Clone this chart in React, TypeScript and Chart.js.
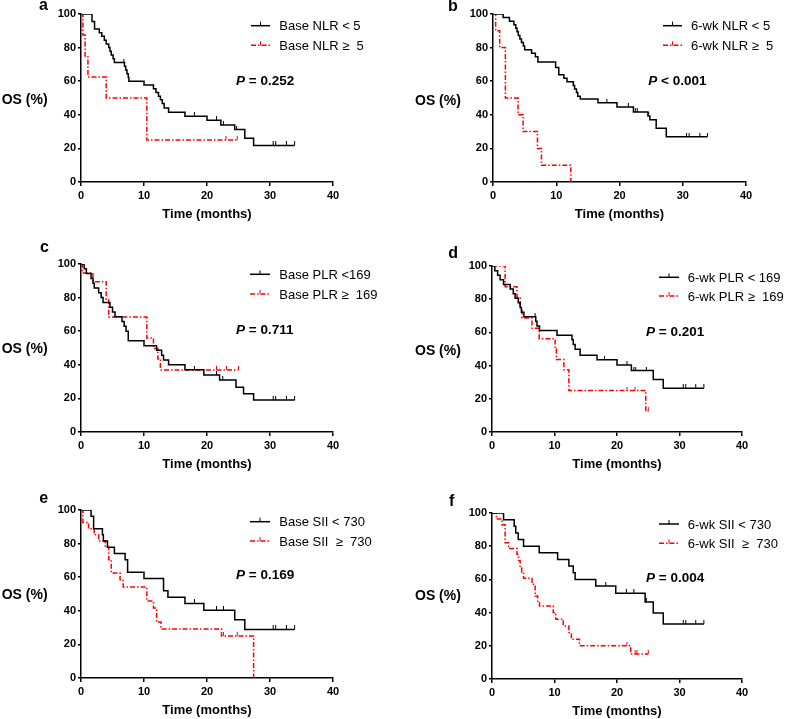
import { useEffect, useRef } from "react";
import { Chart, registerables } from "chart.js";

Chart.register(...registerables);

const FONT = "'Liberation Sans', Arial, Helvetica, sans-serif";
const BLACK = "#000000";
const RED = "#ff0000";
const RED_DASH = [5, 2, 1.5, 2];

// ---------- axes ----------
const xTickValues = [0, 10, 20, 30, 40];
const yTickValues = [0, 20, 40, 60, 80, 100];
const xAxisTitle = "Time (months)";
const yAxisTitle = "OS (%)";

// ---------- texts ----------
const panelLetters = ["a", "b", "c", "d", "e", "f"];
const lowLabels = ["Base NLR < 5", "6-wk NLR < 5", "Base PLR <169", "6-wk PLR < 169", "Base SII < 730", "6-wk SII < 730"];
const highLabels = ["Base NLR \u2265  5", "6-wk NLR \u2265  5", "Base PLR \u2265  169", "6-wk PLR \u2265  169", "Base SII  \u2265  730", "6-wk SII  \u2265  730"];
const pSigns = ["=", "<", "=", "=", "=", "="];
const pValues = ["0.252", "0.001", "0.711", "0.201", "0.169", "0.004"];

// ---------- panel a: Base NLR ----------
const baseNlrLowTime = [0, 1.75, 2.15, 2.9, 3.3, 3.7, 4.0, 4.4, 4.6, 4.8, 5.1, 5.3, 6.9, 7.1, 7.3, 7.5, 7.6, 10.0, 11.5, 11.9, 12.3, 12.6, 12.9, 13.2, 13.9, 16.5, 20.0, 22.2, 24.4, 26.0, 27.4, 33.9];
const baseNlrLowSurv = [100, 95.6, 91.1, 88.9, 86.7, 84.4, 82.2, 80.0, 77.8, 75.6, 73.3, 71.1, 68.9, 66.7, 64.4, 62.2, 60.0, 57.8, 55.5, 53.3, 51.1, 48.9, 46.7, 44.0, 41.5, 39.1, 36.7, 34.0, 31.2, 26.0, 21.8, 21.8];
const baseNlrLowCensor = [6.8, 18.0, 21.5, 22.6, 24.7, 30.5, 30.9, 32.6, 33.9];
const baseNlrHighTime = [0, 0.3, 0.65, 1.1, 4.0, 10.45, 24.8];
const baseNlrHighSurv = [100, 87.5, 75, 62.5, 50, 25, 25];
const baseNlrHighCensor = [23.0, 24.8];

// ---------- panel b: 6-wk NLR ----------
const wkNlrLowTime = [0, 1.6, 2.6, 3.3, 3.6, 3.8, 4.0, 4.25, 4.5, 4.8, 5.0, 6.1, 6.7, 7.1, 9.9, 10.4, 11.2, 11.7, 12.7, 12.9, 13.2, 13.4, 13.8, 16.6, 19.6, 22.2, 24.5, 24.8, 25.8, 27.4, 33.9];
const wkNlrLowSurv = [100, 97.9, 95.7, 93.6, 91.5, 89.4, 87.2, 85.1, 83.0, 80.9, 78.7, 76.6, 74.5, 71.5, 68.1, 63.9, 61.7, 59.6, 57.4, 55.3, 53.2, 51.1, 49.4, 47.1, 44.7, 41.7, 39.3, 37.0, 32.0, 27.0, 27.0];
const wkNlrLowCensor = [18.0, 21.4, 22.5, 22.8, 24.6, 30.6, 31.0, 32.7, 33.9];
const wkNlrHighTime = [0, 0.42, 1.06, 1.96, 3.96, 4.76, 7.03, 7.66, 12.3];
const wkNlrHighSurv = [100, 90, 80, 50, 40, 30, 20, 10, 0];
const wkNlrHighCensor: number[] = [];

// ---------- panel c: Base PLR ----------
const basePlrLowTime = [0, 0.5, 0.85, 1.6, 1.9, 2.1, 2.8, 3.2, 3.5, 4.6, 5.0, 5.4, 6.5, 6.85, 7.15, 7.5, 10.0, 12.0, 12.8, 13.1, 13.9, 16.5, 19.5, 22.0, 24.6, 25.8, 27.4, 33.9];
const basePlrLowSurv = [100, 97.1, 94.3, 91.4, 88.6, 85.7, 82.9, 80.0, 77.1, 74.3, 71.4, 68.6, 65.7, 62.9, 60.0, 54.3, 51.4, 48.6, 45.7, 42.9, 40.0, 37.1, 34.0, 31.0, 26.6, 22.8, 19.0, 19.0];
const basePlrLowCensor = [18.0, 21.5, 22.5, 30.5, 30.9, 32.6, 33.9];
const basePlrHighTime = [0, 0.2, 1.9, 4.0, 4.4, 10.45, 11.5, 12.2, 12.6, 25.0];
const basePlrHighSurv = [100, 94.7, 89.5, 78.9, 68.4, 55.9, 49.7, 43.5, 36.9, 36.9];
const basePlrHighCensor = [21.5, 23.1, 25.0];

// ---------- panel d: 6-wk PLR ----------
const wkPlrLowTime = [0, 0.45, 0.9, 1.3, 1.85, 2.9, 3.4, 3.7, 4.2, 4.5, 4.7, 5.1, 7.0, 7.2, 7.6, 10.4, 12.8, 13.0, 13.3, 14.1, 16.8, 20.0, 22.3, 25.8, 27.4, 33.9];
const wkPlrLowSurv = [100, 97.2, 94.4, 91.7, 88.9, 86.1, 83.3, 80.6, 77.8, 75.0, 72.2, 69.4, 66.7, 63.9, 61.1, 58.3, 55.5, 52.7, 49.9, 46.3, 43.5, 40.4, 37.0, 31.6, 26.3, 26.3];
const wkPlrLowCensor = [6.9, 18.0, 21.6, 22.7, 23.0, 24.7, 30.6, 31.0, 32.6, 33.9];
const wkPlrHighTime = [0, 2.1, 4.0, 4.5, 4.8, 6.4, 7.55, 10.1, 10.3, 11.5, 12.3, 24.6, 25.0];
const wkPlrHighSurv = [100, 87.5, 81.25, 75.0, 68.75, 62.5, 56.25, 50.0, 43.75, 37.5, 25.0, 12.5, 12.5];
const wkPlrHighCensor = [21.6, 22.9, 25.0];

// ---------- panel e: Base SII ----------
const baseSiiLowTime = [0, 1.6, 2.0, 3.4, 3.55, 4.2, 5.3, 7.0, 7.4, 10.0, 13.1, 13.8, 16.5, 19.5, 24.4, 26.0, 33.9];
const baseSiiLowSurv = [100, 96.3, 88.9, 85.2, 81.5, 77.8, 74.1, 70.4, 63.0, 59.3, 51.9, 48.1, 44.4, 40.4, 34.6, 28.9, 28.9];
const baseSiiLowCensor = [18.0, 21.5, 22.6, 30.5, 30.9, 32.6, 33.9];
const baseSiiHighTime = [0, 0.3, 1.2, 2.1, 2.8, 3.85, 4.4, 4.8, 6.2, 6.7, 10.45, 11.5, 12.0, 12.7, 22.3, 27.4];
const baseSiiHighSurv = [100, 92.6, 88.9, 85.2, 81.5, 77.8, 70.4, 62.5, 58.5, 54.2, 45.8, 41.7, 33.3, 29.2, 25.0, 0];
const baseSiiHighCensor = [22.6, 24.8];

// ---------- panel f: 6-wk SII ----------
const wkSiiLowTime = [0, 1.85, 3.55, 3.8, 4.2, 5.05, 7.55, 10.5, 12.3, 13.0, 13.3, 16.6, 19.8, 24.5, 25.8, 27.4, 33.9];
const wkSiiLowSurv = [100, 96, 92, 88, 84, 80, 76, 72, 68, 64, 60, 56, 51.6, 46.4, 39.8, 33.2, 33.2];
const wkSiiLowCensor = [18.2, 21.5, 22.7, 24.7, 30.6, 31.0, 32.6, 33.9];
const wkSiiHighTime = [0, 0.7, 1.6, 2.1, 2.65, 4.0, 4.25, 4.5, 4.75, 5.05, 6.4, 6.9, 7.3, 7.6, 9.8, 10.2, 11.4, 12.3, 12.7, 14.0, 22.2, 25.0];
const wkSiiHighSurv = [100, 96.4, 92.9, 82.1, 78.6, 75.0, 71.4, 67.9, 64.3, 60.7, 57.1, 50.0, 46.4, 44.0, 40.0, 36.0, 32.0, 28.0, 24.0, 20.0, 15.0, 15.0];
const wkSiiHighCensor = [21.6, 22.9, 23.2, 25.0];

type Series = { time: number[]; surv: number[]; censor: number[] };
type Layout = {
  area: { l: number; r: number; t: number; b: number };
  letter: { x: number; base: number };
  os: { x: number; cy: number };
  legend: { x1: number; x2: number; tx: number; cy: [number, number] };
  p: { x: number; cy: number };
};

const seriesLow: Series[] = [
  { time: baseNlrLowTime, surv: baseNlrLowSurv, censor: baseNlrLowCensor },
  { time: wkNlrLowTime, surv: wkNlrLowSurv, censor: wkNlrLowCensor },
  { time: basePlrLowTime, surv: basePlrLowSurv, censor: basePlrLowCensor },
  { time: wkPlrLowTime, surv: wkPlrLowSurv, censor: wkPlrLowCensor },
  { time: baseSiiLowTime, surv: baseSiiLowSurv, censor: baseSiiLowCensor },
  { time: wkSiiLowTime, surv: wkSiiLowSurv, censor: wkSiiLowCensor },
];
const seriesHigh: Series[] = [
  { time: baseNlrHighTime, surv: baseNlrHighSurv, censor: baseNlrHighCensor },
  { time: wkNlrHighTime, surv: wkNlrHighSurv, censor: wkNlrHighCensor },
  { time: basePlrHighTime, surv: basePlrHighSurv, censor: basePlrHighCensor },
  { time: wkPlrHighTime, surv: wkPlrHighSurv, censor: wkPlrHighCensor },
  { time: baseSiiHighTime, surv: baseSiiHighSurv, censor: baseSiiHighCensor },
  { time: wkSiiHighTime, surv: wkSiiHighSurv, censor: wkSiiHighCensor },
];

const layouts: Layout[] = [
  { area: { l: 81, r: 333, t: 14, b: 182 }, letter: { x: 39, base: 10.7 }, os: { x: 1.7, cy: 99 }, legend: { x1: 251, x2: 270, tx: 279.3, cy: [25.7, 45.3] }, p: { x: 236, cy: 81 } },
  { area: { l: 493, r: 746, t: 14, b: 182 }, letter: { x: 448, base: 11.7 }, os: { x: 415, cy: 100 }, legend: { x1: 663, x2: 682, tx: 691, cy: [25.7, 45.3] }, p: { x: 648.3, cy: 81 } },
  { area: { l: 81, r: 333, t: 264, b: 432 }, letter: { x: 40, base: 252.3 }, os: { x: 1.7, cy: 348.3 }, legend: { x1: 250, x2: 270, tx: 279.3, cy: [274.3, 294] }, p: { x: 236, cy: 329.3 } },
  { area: { l: 492, r: 742, t: 266, b: 432 }, letter: { x: 448.3, base: 258 }, os: { x: 415, cy: 350 }, legend: { x1: 659, x2: 679, tx: 687.7, cy: [277.3, 296] }, p: { x: 646, cy: 331.7 } },
  { area: { l: 81, r: 333, t: 510, b: 678 }, letter: { x: 39.3, base: 503.3 }, os: { x: 1.7, cy: 594 }, legend: { x1: 250, x2: 270, tx: 279.3, cy: [521.7, 541] }, p: { x: 236, cy: 575 } },
  { area: { l: 492, r: 742, t: 513, b: 679 }, letter: { x: 449, base: 506.7 }, os: { x: 415, cy: 595 }, legend: { x1: 659, x2: 679, tx: 687.7, cy: [524, 543.3] }, p: { x: 646, cy: 577.7 } },
];

const Y_AXIS_W = 40;
const X_AXIS_H = 40;
const PAD_TOP = 10;
const PAD_RIGHT = 12;

function survivalAt(s: Series, t: number): number {
  let v = s.surv[0];
  for (let i = 0; i < s.time.length; i++) {
    if (s.time[i] <= t + 1e-9) v = s.surv[i];
  }
  return v;
}

function makeTick(color: string): HTMLCanvasElement {
  const c = document.createElement("canvas");
  c.width = 3;
  c.height = 8;
  const g = c.getContext("2d")!;
  g.fillStyle = color;
  g.fillRect(1, 0, 1, 4);
  return c;
}

function Panel({ index }: { index: number }) {
  const ref = useRef<HTMLCanvasElement>(null);
  const lay = layouts[index];
  const w = Y_AXIS_W + (lay.area.r - lay.area.l) + PAD_RIGHT;
  const h = PAD_TOP + (lay.area.b - lay.area.t) + X_AXIS_H;

  useEffect(() => {
    const lo = seriesLow[index];
    const hi = seriesHigh[index];
    const tickBlack = makeTick(BLACK);
    const tickRed = makeTick(RED);
    const pts = (s: Series) => s.time.map((t, i) => ({ x: t, y: s.surv[i] }));
    const cens = (s: Series) => s.censor.map((t) => ({ x: t, y: survivalAt(s, t) }));
    const tickFont = { family: FONT, size: 11, weight: "bold" as const };

    const chart = new Chart(ref.current!, {
      type: "line",
      data: {
        datasets: [
          { data: pts(lo), stepped: "before", borderColor: BLACK, borderWidth: 1.5, pointRadius: 0, fill: false },
          { data: pts(hi), stepped: "before", borderColor: RED, borderWidth: 1.5, borderDash: RED_DASH, pointRadius: 0, fill: false },
          { data: cens(lo), showLine: false, pointStyle: tickBlack, pointRadius: 3, borderColor: BLACK, backgroundColor: BLACK },
          { data: cens(hi), showLine: false, pointStyle: tickRed, pointRadius: 3, borderColor: RED, backgroundColor: RED },
        ],
      } as any,
      options: {
        animation: false,
        responsive: false,
        maintainAspectRatio: false,
        events: [],
        layout: { padding: { left: 0, top: PAD_TOP, right: PAD_RIGHT, bottom: 0 } },
        plugins: { legend: { display: false }, tooltip: { enabled: false }, title: { display: false } },
        scales: {
          x: {
            type: "linear",
            min: xTickValues[0],
            max: xTickValues[xTickValues.length - 1],
            afterBuildTicks: (s: any) => {
              s.ticks = xTickValues.map((v) => ({ value: v }));
            },
            afterFit: (s: any) => {
              s.height = X_AXIS_H;
            },
            grid: { display: true, drawOnChartArea: false, drawTicks: true, tickLength: 4, color: BLACK, lineWidth: 1.5 },
            border: { display: true, color: BLACK, width: 1.5 },
            ticks: { color: BLACK, font: tickFont, padding: 3, maxRotation: 0, autoSkip: false, callback: (v: any) => String(v) },
            title: { display: true, text: xAxisTitle, color: BLACK, font: { family: FONT, size: 13, weight: "bold" }, padding: { top: 0, bottom: 0 } },
          },
          y: {
            type: "linear",
            min: yTickValues[0],
            max: yTickValues[yTickValues.length - 1],
            afterBuildTicks: (s: any) => {
              s.ticks = yTickValues.map((v) => ({ value: v }));
            },
            afterFit: (s: any) => {
              s.width = Y_AXIS_W;
            },
            grid: { display: true, drawOnChartArea: false, drawTicks: true, tickLength: 3, color: BLACK, lineWidth: 1.5 },
            border: { display: true, color: BLACK, width: 1.5 },
            ticks: { color: BLACK, font: tickFont, padding: 2, autoSkip: false, callback: (v: any) => String(v) },
            title: { display: false },
          },
        },
      } as any,
    });
    return () => chart.destroy();
  }, [index]);

  return (
    <canvas
      ref={ref}
      width={w}
      height={h}
      style={{ position: "absolute", left: lay.area.l - Y_AXIS_W, top: lay.area.t - PAD_TOP, width: w, height: h }}
    />
  );
}

function Texts({ index }: { index: number }) {
  const lay = layouts[index];
  const base: React.CSSProperties = { position: "absolute", fontFamily: FONT, color: BLACK, whiteSpace: "pre", margin: 0 };
  return (
    <>
      <div style={{ ...base, left: lay.letter.x, top: lay.letter.base - 13.5, fontSize: 16, lineHeight: "16px", fontWeight: "bold" }}>
        {panelLetters[index]}
      </div>
      <div style={{ ...base, left: lay.os.x, top: lay.os.cy - 7, fontSize: 14, lineHeight: "14px", fontWeight: "bold" }}>
        {yAxisTitle}
      </div>
      <div style={{ ...base, left: lay.p.x, top: lay.p.cy - 6.7, fontSize: 13.5, lineHeight: "13.5px", fontWeight: "bold" }}>
        <i>P</i>
        {" " + pSigns[index] + " " + pValues[index]}
      </div>
      <div style={{ ...base, left: lay.legend.tx, top: lay.legend.cy[0] - 6.4, fontSize: 13, lineHeight: "13px" }}>
        {lowLabels[index]}
      </div>
      <div style={{ ...base, left: lay.legend.tx, top: lay.legend.cy[1] - 6.4, fontSize: 13, lineHeight: "13px" }}>
        {highLabels[index]}
      </div>
    </>
  );
}

function LegendSamples() {
  return (
    <svg width={787} height={719} style={{ position: "absolute", left: 0, top: 0, pointerEvents: "none" }}>
      {layouts.map((lay, i) => {
        const mid = (lay.legend.x1 + lay.legend.x2) / 2;
        return (
          <g key={i}>
            <line x1={lay.legend.x1} x2={lay.legend.x2} y1={lay.legend.cy[0]} y2={lay.legend.cy[0]} stroke={BLACK} strokeWidth={1.5} />
            <line x1={mid} x2={mid} y1={lay.legend.cy[0] - 4} y2={lay.legend.cy[0]} stroke={BLACK} strokeWidth={1} />
            <line x1={lay.legend.x1} x2={lay.legend.x2} y1={lay.legend.cy[1]} y2={lay.legend.cy[1]} stroke={RED} strokeWidth={1.5} strokeDasharray={RED_DASH.join(" ")} />
            <line x1={mid} x2={mid} y1={lay.legend.cy[1] - 4} y2={lay.legend.cy[1]} stroke={RED} strokeWidth={1} />
          </g>
        );
      })}
    </svg>
  );
}

export default function App() {
  return (
    <div style={{ position: "fixed", left: 0, top: 0, width: 787, height: 719, background: "#ffffff", overflow: "hidden" }}>
      {layouts.map((_, i) => (
        <Panel key={"p" + i} index={i} />
      ))}
      {layouts.map((_, i) => (
        <Texts key={"t" + i} index={i} />
      ))}
      <LegendSamples />
    </div>
  );
}
